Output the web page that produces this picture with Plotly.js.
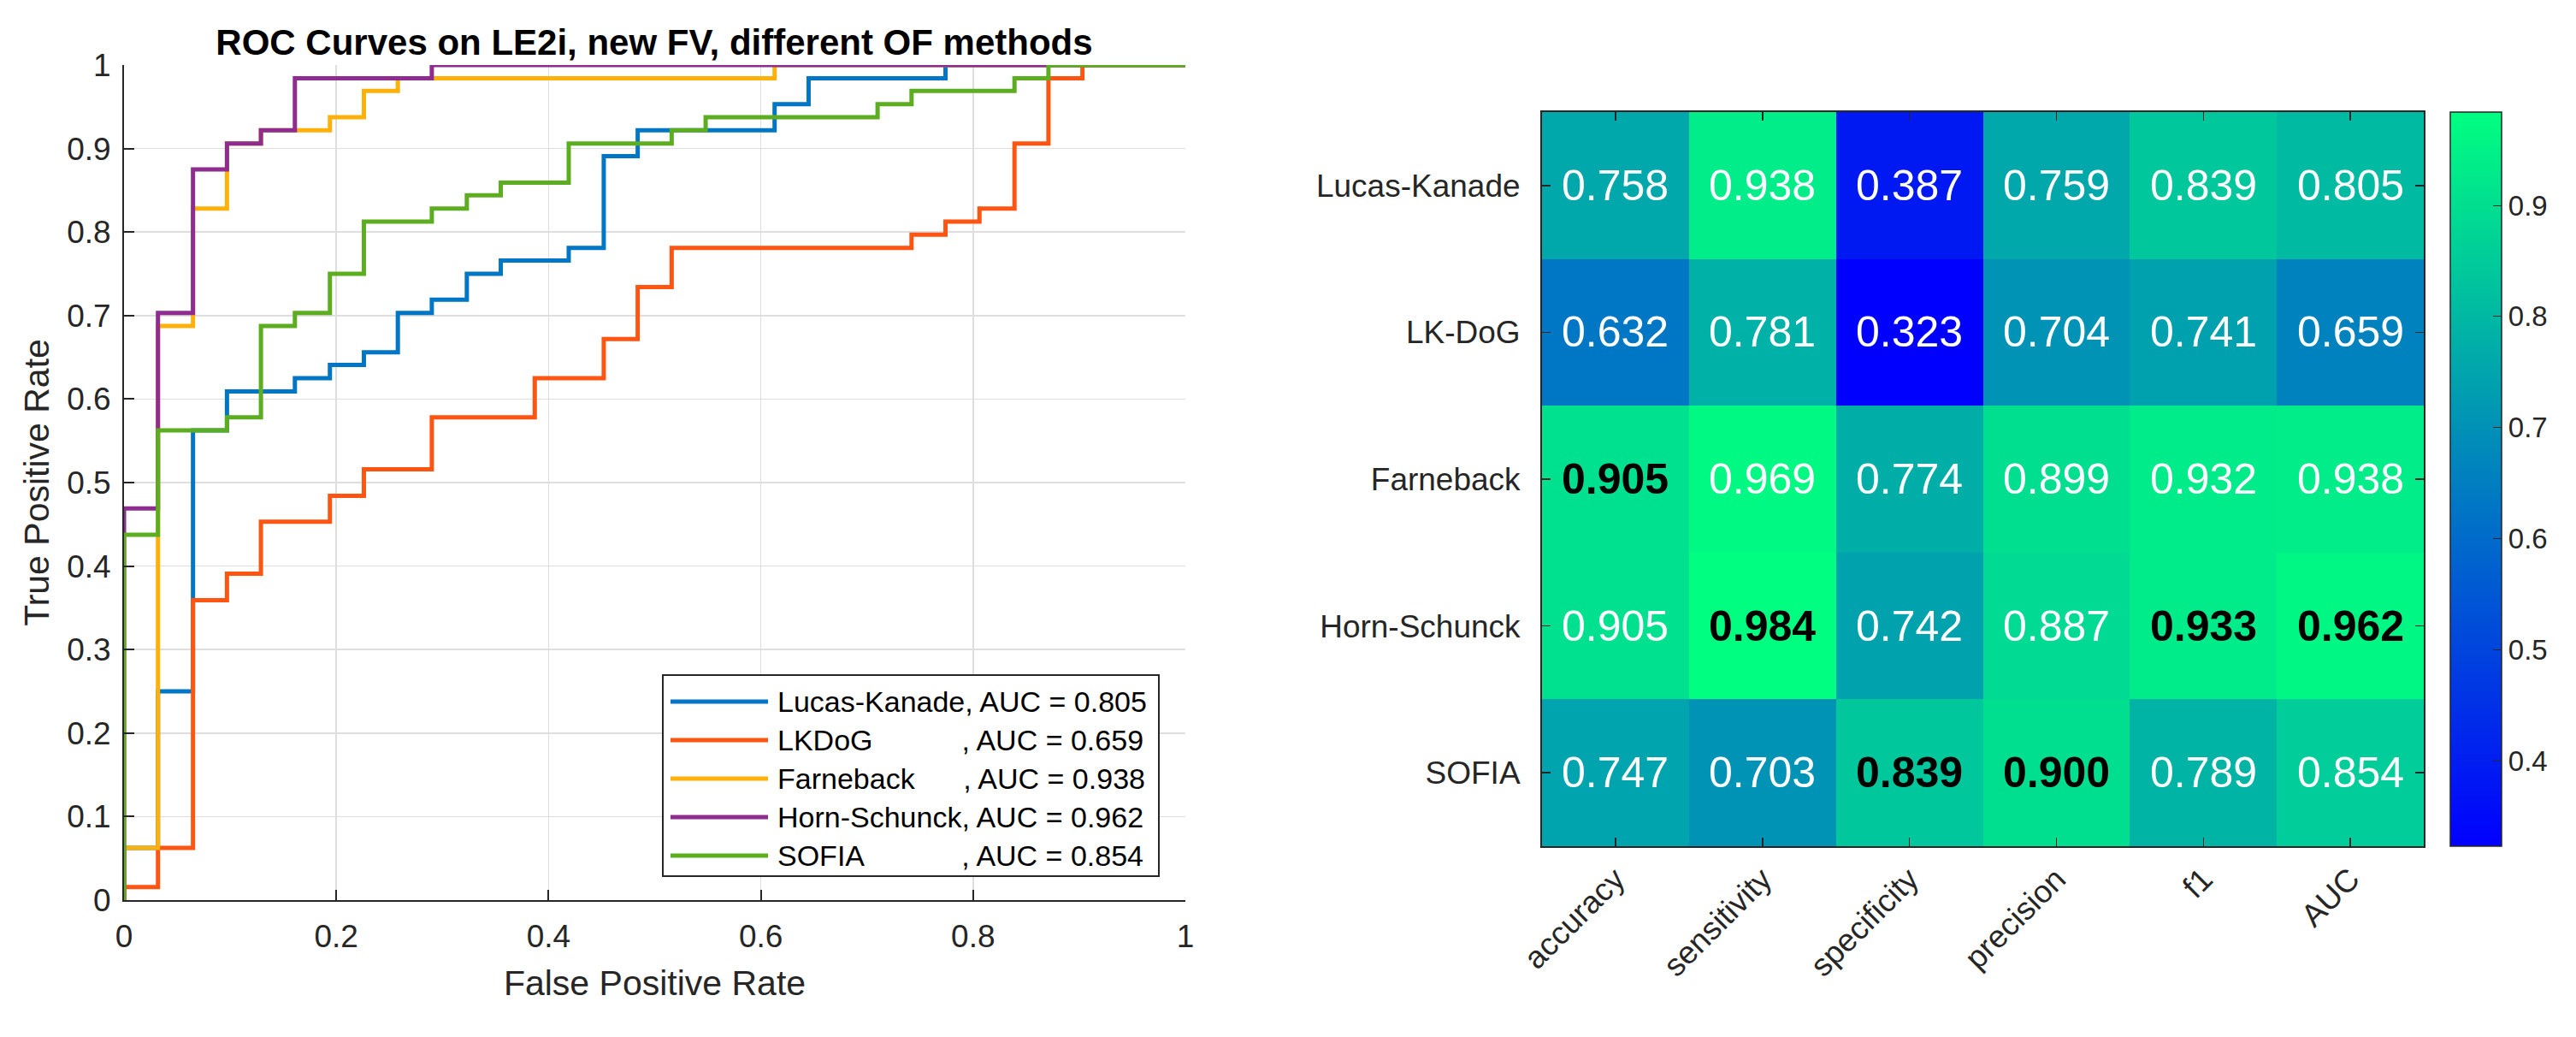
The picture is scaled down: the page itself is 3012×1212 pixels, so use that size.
<!DOCTYPE html>
<html>
<head>
<meta charset="utf-8">
<script src="https://cdn.plot.ly/plotly-3.0.1.min.js"></script>
<style>
  html, body { margin: 0; padding: 0; background: #fff; }
  #chart { width: 3012px; height: 1212px; }
</style>
</head>
<body>
<div id="chart"></div>
<script>
// ROC curves: step corners (FPR, TPR)
const fprLK = [0, 0, 0.032, 0.065, 0.097, 0.161, 0.194, 0.226, 0.258, 0.290, 0.323, 0.355, 0.419, 0.452, 0.484, 0.613, 0.645, 0.774, 1];
const tprLK = [0, 0.0625, 0.250, 0.5625, 0.609, 0.625, 0.641, 0.656, 0.703, 0.719, 0.750, 0.766, 0.781, 0.891, 0.922, 0.953, 0.984, 1, 1];

const fprDoG = [0, 0, 0.032, 0.065, 0.097, 0.129, 0.194, 0.226, 0.290, 0.387, 0.452, 0.484, 0.516, 0.742, 0.774, 0.806, 0.839, 0.871, 0.903, 1];
const tprDoG = [0, 0.0156, 0.0625, 0.359, 0.391, 0.453, 0.484, 0.516, 0.578, 0.625, 0.672, 0.734, 0.781, 0.797, 0.8125, 0.828, 0.906, 0.984, 1, 1];

const fprFarne = [0, 0, 0.032, 0.065, 0.097, 0.129, 0.194, 0.226, 0.258, 0.613, 1];
const tprFarne = [0, 0.0625, 0.6875, 0.828, 0.906, 0.922, 0.9375, 0.969, 0.984, 1, 1];

const fprHorn = [0, 0, 0.032, 0.065, 0.097, 0.129, 0.161, 0.290, 1];
const tprHorn = [0, 0.469, 0.703, 0.875, 0.906, 0.922, 0.984, 1, 1];

const fprSofia = [0, 0, 0.032, 0.097, 0.129, 0.161, 0.194, 0.226, 0.290, 0.323, 0.355, 0.419, 0.516, 0.548, 0.710, 0.742, 0.839, 0.871, 1];
const tprSofia = [0, 0.4375, 0.5625, 0.578, 0.6875, 0.703, 0.750, 0.8125, 0.828, 0.844, 0.859, 0.906, 0.922, 0.9375, 0.953, 0.969, 0.984, 1, 1];

const methods = ['Lucas-Kanade', 'LKDoG', 'Farneback', 'Horn-Schunck', 'SOFIA'];
const aucValues = [0.805, 0.659, 0.938, 0.962, 0.854];
const namePad = [0, 11, 6, 0, 12];   // spaces before the comma, as in the legend
const lineColors = ['#0076C4', '#FF5512', '#FFB10A', '#8E2C90', '#5DAD20'];

// heatmap
const heatRows = ['Lucas-Kanade', 'LK-DoG', 'Farneback', 'Horn-Schunck', 'SOFIA'];
const metrics = ['accuracy', 'sensitivity', 'specificity', 'precision', 'f1', 'AUC'];
const scoresLK    = [0.758, 0.938, 0.387, 0.759, 0.839, 0.805];
const scoresDoG   = [0.632, 0.781, 0.323, 0.704, 0.741, 0.659];
const scoresFarne = [0.905, 0.969, 0.774, 0.899, 0.932, 0.938];
const scoresHorn  = [0.905, 0.984, 0.742, 0.887, 0.933, 0.962];
const scoresSofia = [0.747, 0.703, 0.839, 0.900, 0.789, 0.854];
const cbTicks = [0.4, 0.5, 0.6, 0.7, 0.8, 0.9];

const FONT = 'Liberation Sans, Arial, sans-serif';
const INK = '#262626';
const W = 3012, H = 1212;
const px = v => v / W;          // pixel -> paper x
const py = v => 1 - v / H;      // pixel (from top) -> paper y

const rocX = [fprLK, fprDoG, fprFarne, fprHorn, fprSofia];
const rocY = [tprLK, tprDoG, tprFarne, tprHorn, tprSofia];

const traces = methods.map((m, i) => ({
    x: rocX[i],
    y: rocY[i],
    type: 'scatter',
    mode: 'lines',
    line: {color: lineColors[i], width: 5, shape: 'hv'},
    name: m,
    showlegend: false,
    xaxis: 'x', yaxis: 'y'
}));

const z = [scoresLK, scoresDoG, scoresFarne, scoresHorn, scoresSofia];
const allVals = z.flat();
const zMin = Math.min(...allVals), zMax = Math.max(...allVals);

traces.push({
    type: 'heatmap',
    x: metrics,
    y: heatRows,
    z: z,
    xaxis: 'x2', yaxis: 'y2',
    zmin: zMin, zmax: zMax,
    colorscale: [[0, 'rgb(0,0,255)'], [1, 'rgb(0,255,128)']],
    showlegend: false,
    colorbar: {
        x: px(2865), xanchor: 'left', xpad: 0,
        y: py(131), yanchor: 'top', ypad: 0,
        len: 858, lenmode: 'pixels',
        thickness: 60,
        outlinecolor: INK, outlinewidth: 1.5,
        tickvals: cbTicks,
        ticks: 'inside', ticklen: 10, tickcolor: INK,
        tickfont: {family: FONT, size: 33, color: INK}
    }
});

// value labels; best value of each column in bold black
const annotations = [];
metrics.forEach((m, j) => {
    let best = 0;
    z.forEach((row, i) => { if (row[j] > z[best][j]) best = i; });
    z.forEach((row, i) => {
        annotations.push({
            x: m, y: heatRows[i], xref: 'x2', yref: 'y2',
            text: row[j].toFixed(3),
            showarrow: false,
            font: {family: FONT, size: 50, color: i === best ? '#000' : '#fff',
                   weight: i === best ? 'bold' : 'normal'}
        });
    });
});

// legend box drawn by hand (MATLAB-style long line samples)
const shapes = [{
    type: 'rect', xref: 'paper', yref: 'paper', layer: 'above',
    x0: px(775), x1: px(1355), y0: py(1024), y1: py(789),
    fillcolor: '#fff', line: {color: INK, width: 2}
}];
methods.forEach((m, i) => {
    const yc = 820 + i * 45;
    shapes.push({
        type: 'line', xref: 'paper', yref: 'paper', layer: 'above',
        x0: px(784), x1: px(898), y0: py(yc), y1: py(yc),
        line: {color: lineColors[i], width: 5}
    });
    annotations.push({
        xref: 'paper', yref: 'paper',
        x: px(907), y: py(yc), xanchor: 'left', yanchor: 'middle',
        text: m + '\u00a0'.repeat(namePad[i]) + ', AUC = ' + aucValues[i].toFixed(3),
        showarrow: false,
        font: {family: FONT, size: 34, color: '#000'}
    });
});

const layout = {
    width: W, height: H,
    autosize: false,
    margin: {l: 0, r: 0, t: 0, b: 0},
    paper_bgcolor: '#fff',
    plot_bgcolor: '#fff',
    font: {family: FONT, color: INK},
    showlegend: false,
    title: {
        text: 'ROC Curves on LE2i, new FV, different OF methods',
        font: {family: FONT, size: 42, color: '#000', weight: 'bold'},
        x: px(765), xanchor: 'center', xref: 'paper',
        y: py(49), yanchor: 'middle', yref: 'paper'
    },
    xaxis: {
        domain: [px(145), px(1386)],
        range: [0, 1], dtick: 0.2,
        showgrid: true, gridcolor: '#dedede', gridwidth: 1.5,
        zeroline: false,
        showline: true, linecolor: INK, linewidth: 2,
        ticks: 'inside', ticklen: 12, tickwidth: 2, tickcolor: INK,
        tickfont: {size: 37, color: INK},
        ticklabelstandoff: 9,
        title: {text: 'False Positive Rate', font: {size: 41, color: INK}, standoff: 20},
        automargin: false, fixedrange: true
    },
    yaxis: {
        domain: [py(1052), py(76)],
        range: [0, 1], dtick: 0.1,
        showgrid: true, gridcolor: '#dedede', gridwidth: 1.5,
        zeroline: false,
        showline: true, linecolor: INK, linewidth: 2,
        ticks: 'inside', ticklen: 12, tickwidth: 2, tickcolor: INK,
        tickfont: {size: 37, color: INK},
        ticklabelstandoff: 6,
        title: {text: 'True Positive Rate', font: {size: 41, color: INK}, standoff: 8},
        automargin: false, fixedrange: true
    },
    xaxis2: {
        domain: [px(1803), px(2834)],
        anchor: 'y2',
        type: 'category',
        showgrid: false, zeroline: false,
        showline: true, mirror: 'ticks', linecolor: INK, linewidth: 2,
        ticks: 'inside', ticklen: 10, tickwidth: 1.5, tickcolor: INK,
        tickangle: -45,
        tickfont: {size: 37, color: INK},
        automargin: false, fixedrange: true
    },
    yaxis2: {
        domain: [py(989), py(131)],
        anchor: 'x2',
        type: 'category',
        autorange: 'reversed',
        showgrid: false, zeroline: false,
        showline: true, mirror: 'ticks', linecolor: INK, linewidth: 2,
        ticks: 'inside', ticklen: 10, tickwidth: 1.5, tickcolor: INK,
        tickfont: {size: 37, color: INK},
        ticklabelstandoff: 16,
        automargin: false, fixedrange: true
    },
    shapes: shapes,
    annotations: annotations
};

Plotly.newPlot('chart', traces, layout, {staticPlot: true, displayModeBar: false});
</script>
</body>
</html>
